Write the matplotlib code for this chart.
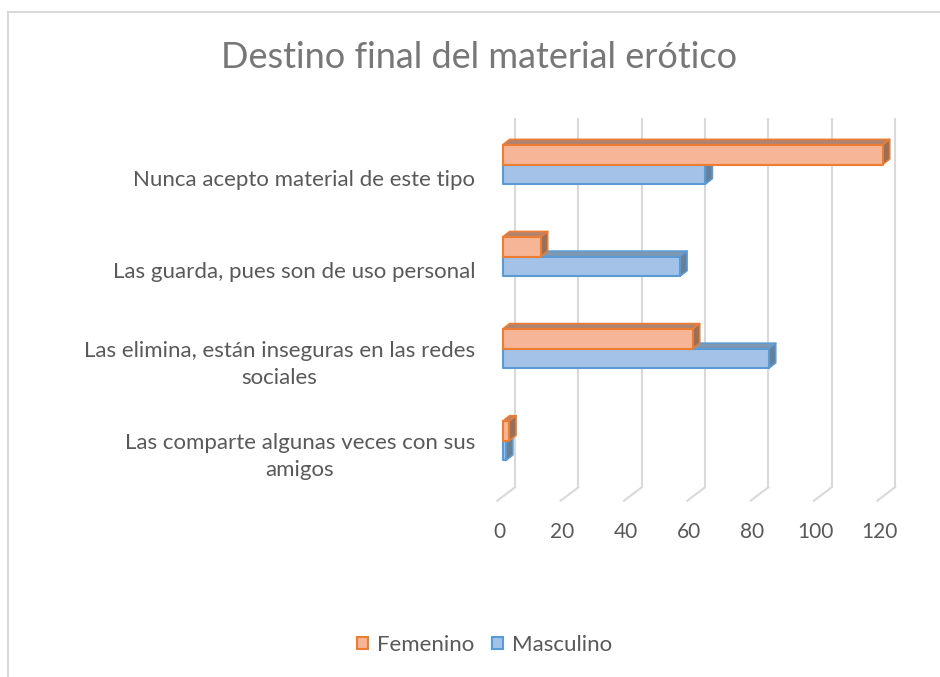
import matplotlib
matplotlib.use("Agg")
import matplotlib.pyplot as plt
from matplotlib.patches import Polygon, Patch
from matplotlib.lines import Line2D

# Datos del gráfico
categorias = [
    "Nunca acepto material de este tipo",
    "Las guarda, pues son de uso personal",
    "Las elimina, están inseguras en las redes\nsociales",
    "Las comparte algunas veces con sus\namigos",
]
femenino = [120, 12, 60, 2]
masculino = [64, 56, 84, 1]
ticks = [0, 20, 40, 60, 80, 100, 120]

W, H = 940, 677
PX = 3.167      # pixeles por unidad
CAT = 92.1      # pixeles entre categorias
X0 = 502.7      # pixel del 0 en el plano frontal de las barras
Y0 = 164.5      # pixel del centro de la primera categoria

# desplazamientos de profundidad (efecto 3D)
bar_dx, bar_dy = 7 / PX, -5.5 / CAT
wall_dx = 12.3 / PX
floor_dx = -5.4 / PX
wall_top = (119 - Y0) / CAT
wall_bot = (487.3 - Y0) / CAT
floor_y = (500.7 - Y0) / CAT
h = 0.213

gris_txt = "#595959"
gris_linea = "#D9D9D9"
fem = dict(face="#F6B597", edge="#ED7D31", top="#B08470", side="#94705F")
mas = dict(face="#A4C2E8", edge="#5B9BD5", top="#8197B0", side="#66809A")

plt.rcParams["font.family"] = ["Lato", "DejaVu Sans"]

fig = plt.figure(figsize=(W / 100, H / 100), dpi=100)
ax = fig.add_axes([0, 0, 1, 1])
ax.set_xlim(-X0 / PX, (W - X0) / PX)
ax.set_ylim((H - Y0) / CAT, -Y0 / CAT)
ax.axis("off")

# pared del fondo y suelo
for v in ticks:
    ax.plot([v + wall_dx, v + wall_dx], [wall_top, wall_bot], color=gris_linea, lw=1.5, zorder=1)
    ax.plot([v + wall_dx, v + floor_dx], [wall_bot, floor_y], color=gris_linea, lw=1.5, zorder=1)
    ax.text(v + floor_dx + 0.6, (531.7 - Y0) / CAT, str(v), ha="center", va="center",
            fontsize=15, color=gris_txt)


def barra3d(valor, y_sup, c):
    y_inf = y_sup + h
    cara_sup = [(0, y_sup), (valor, y_sup), (valor + bar_dx, y_sup + bar_dy), (bar_dx, y_sup + bar_dy)]
    cara_lat = [(valor, y_sup), (valor + bar_dx, y_sup + bar_dy), (valor + bar_dx, y_inf + bar_dy), (valor, y_inf)]
    frente = [(0, y_sup), (valor, y_sup), (valor, y_inf), (0, y_inf)]
    ax.add_patch(Polygon(cara_sup, closed=True, fc=c["top"], ec=c["edge"], lw=1.2, joinstyle="round", zorder=2))
    ax.add_patch(Polygon(cara_lat, closed=True, fc=c["side"], ec=c["edge"], lw=1.2, joinstyle="round", zorder=2))
    ax.add_patch(Polygon(frente, closed=True, fc=c["face"], ec=c["edge"], lw=1.5, joinstyle="round", zorder=2))


for i, cat in enumerate(categorias):
    barra3d(masculino[i], i, mas)
    barra3d(femenino[i], i - h, fem)
    ax.text((475 - X0) / PX, i + 15.7 / CAT, cat, ha="right", va="center", multialignment="center",
            fontsize=16, color=gris_txt, linespacing=1.45)

fig.text(0.51, 1 - 57 / H, "Destino final del material erótico", ha="center", va="center",
         fontsize=26, color="#777777")

handles = [Patch(facecolor=fem["face"], edgecolor=fem["edge"], lw=1.5, label="Femenino"),
           Patch(facecolor=mas["face"], edgecolor=mas["edge"], lw=1.5, label="Masculino")]
leg = fig.legend(handles=handles, loc="center", bbox_to_anchor=(0.515, 1 - 645 / H), ncol=2,
                 frameon=False, handlelength=0.5, handleheight=0.5, handletextpad=0.4,
                 columnspacing=0.8, fontsize=16)
for t in leg.get_texts():
    t.set_color(gris_txt)

# borde del area del grafico
fig.add_artist(Line2D([8 / W, 8 / W], [0, 1 - 12 / H], color=gris_linea, lw=1.5))
fig.add_artist(Line2D([8 / W, 1], [1 - 12 / H, 1 - 12 / H], color=gris_linea, lw=1.5))

fig.savefig("out.png", dpi=100)
